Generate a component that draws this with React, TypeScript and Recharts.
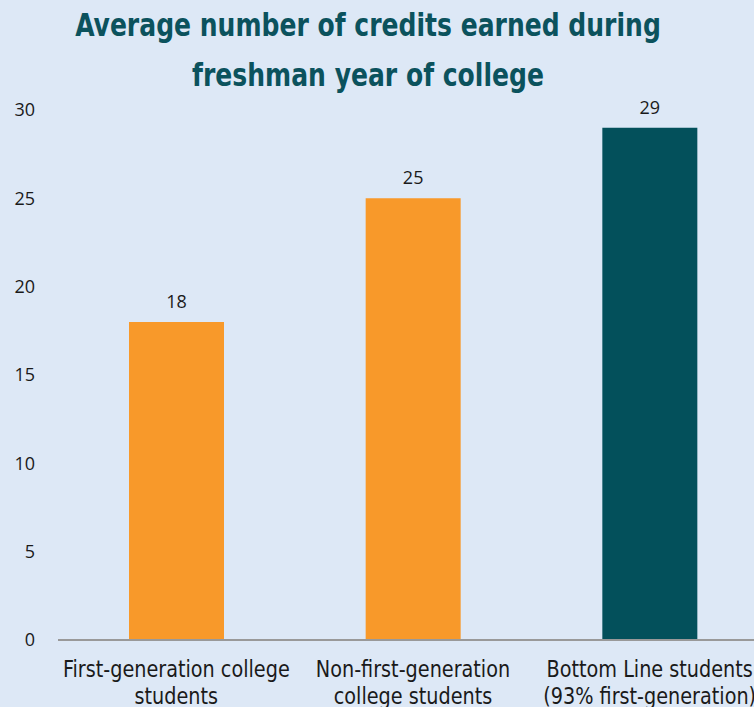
import React from "react";
import { BarChart, Bar, XAxis, YAxis, Cell, LabelList } from "recharts";

const categories = [
  "First-generation college\nstudents",
  "Non-first-generation\ncollege students",
  "Bottom Line students\n(93% first-generation)",
];
const credits = [18, 25, 29];
const barColors = ["#f8992a", "#f8992a", "#03505b"];
const yTicks = [0, 5, 10, 15, 20, 25, 30];
const titleLines = ["Average number of credits earned during", "freshman year of college"];

const data = categories.map((c, i) => ({ name: c, value: credits[i] }));

const FONT_COND = "'DejaVu Sans Condensed', 'DejaVu Sans', sans-serif";
const FONT_NUM = "'Open Sans', sans-serif";

const XTick = (props: any) => {
  const { x, y, payload } = props;
  const lines = String(payload.value).split("\n");
  return (
    <g transform={`translate(${x},${y}) scale(0.93,1)`}>
      <text textAnchor="middle" fill="#1a1a1a" fontSize={23} fontFamily={FONT_COND}>
        {lines.map((l, i) => (
          <tspan key={i} x={0} y={29 + i * 27}>
            {l}
          </tspan>
        ))}
      </text>
    </g>
  );
};

export default function App() {
  return (
    <div
      style={{
        position: "absolute",
        left: 0,
        top: 0,
        width: 754,
        height: 707,
        overflow: "hidden",
        background: "#dde8f6",
      }}
    >
      <div
        style={{
          position: "absolute",
          left: 0,
          width: 736,
          top: 0,
          textAlign: "center",
          fontFamily: FONT_COND,
          fontWeight: "bold",
          fontSize: 32,
          lineHeight: "50px",
          color: "#0b525d",
          transform: "scaleX(0.87)",
          transformOrigin: "368px 0px",
          whiteSpace: "nowrap",
        }}
      >
        {titleLines.map((t, i) => (
          <div key={i}>{t}</div>
        ))}
      </div>
      <div style={{ position: "absolute", left: 0, top: 0 }}>
        <BarChart
          width={768}
          height={707}
          data={data}
          margin={{ top: 110, right: 0, bottom: 0, left: 0 }}
        >
          <XAxis
            dataKey="name"
            tick={<XTick />}
            tickLine={false}
            axisLine={{ stroke: "#999999", strokeWidth: 2 }}
            interval={0}
            height={67}
          />
          <YAxis
            domain={[0, 30]}
            ticks={yTicks}
            width={58}
            axisLine={false}
            tickLine={false}
            tickSize={0}
            tickMargin={23}
            tick={{ fill: "#1a1a1a", fontSize: 18, fontFamily: FONT_NUM }}
          />
          <Bar dataKey="value" barSize={95} isAnimationActive={false}>
            {data.map((d, i) => (
              <Cell key={i} fill={barColors[i]} />
            ))}
            <LabelList
              dataKey="value"
              position="top"
              offset={14}
              fill="#1a1a1a"
              fontSize={18}
              fontFamily={FONT_NUM}
            />
          </Bar>
        </BarChart>
      </div>
    </div>
  );
}
